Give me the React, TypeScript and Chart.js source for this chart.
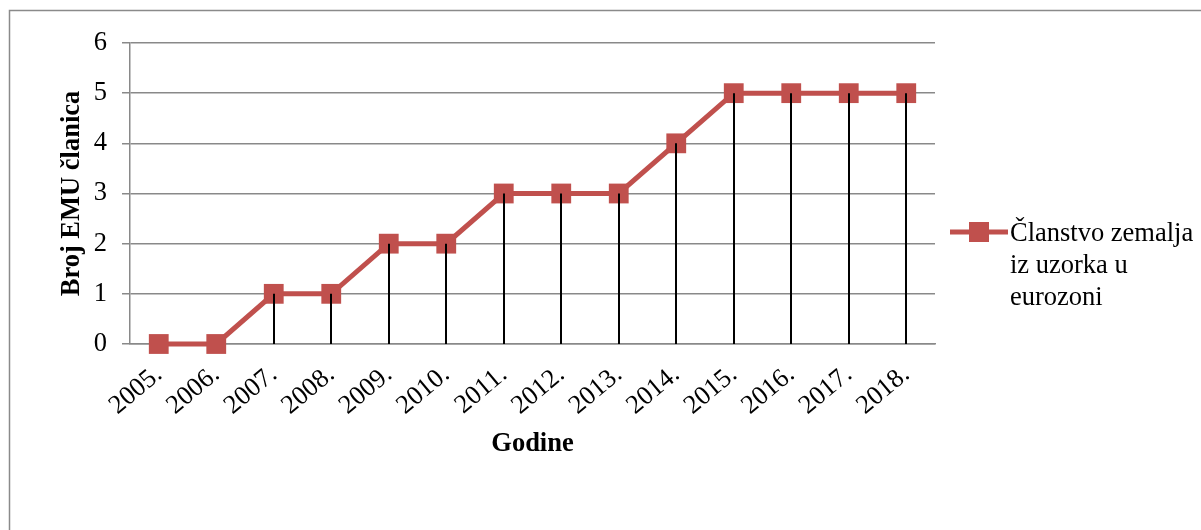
import React, { useEffect, useRef } from 'react';
import { Chart, registerables } from 'chart.js';

Chart.register(...registerables);

const categories = ['2005.', '2006.', '2007.', '2008.', '2009.', '2010.', '2011.', '2012.', '2013.', '2014.', '2015.', '2016.', '2017.', '2018.'];
const members = [0, 0, 1, 1, 2, 2, 3, 3, 3, 4, 5, 5, 5, 5];
const yMin = 0;
const yMax = 6;
const yStep = 1;
const seriesLabel = 'Članstvo zemalja iz uzorka u eurozoni';
const legendLines = ['Članstvo zemalja', 'iz uzorka u', 'eurozoni'];
const xTitle = 'Godine';
const yTitle = 'Broj EMU članica';

const SERIES_COLOR = '#C0504D';
const GRID_COLOR = '#898989';
const FONT = '"Liberation Serif", "Times New Roman", serif';
const FS = 26.5;

const framePlugin = {
  id: 'frame',
  beforeDraw(chart: any) {
    const { ctx } = chart;
    ctx.save();
    ctx.fillStyle = '#ffffff';
    ctx.fillRect(0, 0, chart.width, chart.height);
    ctx.strokeStyle = '#8a8a8a';
    ctx.lineWidth = 1.5;
    ctx.strokeRect(9.5, 10.5, 1400, 800);
    ctx.restore();
  },
};

const dropLinesPlugin = {
  id: 'dropLines',
  afterDatasetsDraw(chart: any) {
    const { ctx } = chart;
    const meta = chart.getDatasetMeta(0);
    const yScale = chart.scales.y;
    const base = yScale.getPixelForValue(0);
    ctx.save();
    ctx.strokeStyle = '#000000';
    ctx.lineWidth = 2;
    meta.data.forEach((pt: any) => {
      if (base - pt.y < 1) return;
      ctx.beginPath();
      ctx.moveTo(Math.round(pt.x), pt.y);
      ctx.lineTo(Math.round(pt.x), base);
      ctx.stroke();
    });
    ctx.restore();
  },
};

const legendPlugin = {
  id: 'sideLegend',
  afterDraw(chart: any) {
    const { ctx, chartArea } = chart;
    const x0 = chartArea.right + 15;
    const yMid = 232;
    ctx.save();
    ctx.strokeStyle = SERIES_COLOR;
    ctx.lineWidth = 5;
    ctx.beginPath();
    ctx.moveTo(x0, yMid);
    ctx.lineTo(x0 + 58, yMid);
    ctx.stroke();
    ctx.fillStyle = SERIES_COLOR;
    ctx.fillRect(x0 + 29 - 10, yMid - 10, 20, 20);
    ctx.fillStyle = '#000000';
    ctx.font = `${FS}px ${FONT}`;
    ctx.textAlign = 'left';
    ctx.textBaseline = 'middle';
    legendLines.forEach((line, i) => {
      ctx.fillText(line, x0 + 60, yMid + 2 + i * 32);
    });
    ctx.restore();
  },
};

export default function App() {
  const canvasRef = useRef<HTMLCanvasElement | null>(null);

  useEffect(() => {
    document.body.style.margin = '0';
    const canvas = canvasRef.current;
    if (!canvas) return;
    const chart = new Chart(canvas, {
      type: 'line',
      data: {
        labels: categories,
        datasets: [
          {
            label: seriesLabel,
            data: members,
            borderColor: SERIES_COLOR,
            backgroundColor: SERIES_COLOR,
            borderWidth: 5,
            pointStyle: 'rect',
            pointRadius: 14,
            pointBorderWidth: 0,
            pointBackgroundColor: SERIES_COLOR,
            tension: 0,
            fill: false,
            clip: false,
          },
        ],
      },
      options: {
        responsive: false,
        animation: false,
        devicePixelRatio: 1,
        layout: { padding: { top: 43, left: 0, right: 266, bottom: 0 } },
        plugins: {
          legend: { display: false },
          tooltip: { enabled: false },
        },
        scales: {
          x: {
            offset: true,
            grid: { display: false },
            border: { display: true, color: GRID_COLOR, width: 1.5 },
            ticks: {
              autoSkip: false,
              maxRotation: 40,
              minRotation: 40,
              padding: 7,
              color: '#000000',
              font: { family: FONT, size: FS },
            },
            title: {
              display: true,
              text: xTitle,
              color: '#000000',
              font: { family: FONT, size: FS, weight: 'bold' },
              padding: { top: 0, bottom: 70 },
            },
            afterFit(scale: any) {
              scale.height = 186;
            },
          },
          y: {
            min: yMin,
            max: yMax,
            grid: { color: GRID_COLOR, lineWidth: 1.5, tickLength: 8, drawTicks: true },
            border: { display: true, color: GRID_COLOR, width: 1.5 },
            ticks: {
              stepSize: yStep,
              padding: 15,
              color: '#000000',
              font: { family: FONT, size: FS },
            },
            title: {
              display: true,
              text: yTitle,
              color: '#000000',
              font: { family: FONT, size: FS, weight: 'bold' },
              padding: { top: 56, bottom: 0 },
            },
            afterFit(scale: any) {
              scale.width = 130;
            },
          },
        },
      },
      plugins: [framePlugin, dropLinesPlugin, legendPlugin],
    });
    return () => chart.destroy();
  }, []);

  return (
    <div style={{ width: 1201, height: 530 }}>
      <canvas ref={canvasRef} width={1201} height={530} style={{ display: 'block', width: 1201, height: 530 }} />
    </div>
  );
}
